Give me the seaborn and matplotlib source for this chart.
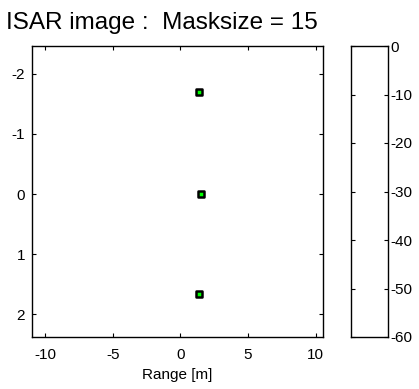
import matplotlib
matplotlib.use("Agg")
import matplotlib.pyplot as plt
import seaborn as sns
import pandas as pd

# data
range_m = [1.36, 1.53, 1.36]
cross_range = [-1.70, 0.0, 1.67]
x_ticks = [-10, -5, 0, 5, 10]
y_ticks = [-2, -1, 0, 1, 2]
cbar_ticks = [0, -10, -20, -30, -40, -50, -60]
title = "ISAR image :  Masksize = 15"

sns.set_style("white")
plt.rcParams['font.family'] = ['Liberation Sans', 'DejaVu Sans']
plt.rcParams['axes.unicode_minus'] = False
plt.rcParams['text.color'] = 'black'
plt.rcParams['axes.labelcolor'] = 'black'
plt.rcParams['xtick.color'] = 'black'
plt.rcParams['ytick.color'] = 'black'

W, H = 419, 389
fig = plt.figure(figsize=(W / 100, H / 100), dpi=100)

def ax_rect(l, t, r, b):
    return [l / W, 1 - b / H, (r - l) / W, (b - t) / H]

ax = fig.add_axes(ax_rect(32, 45.7, 322.7, 337))
df = pd.DataFrame({"x": range_m, "y": cross_range})
sns.scatterplot(data=df, x="x", y="y", ax=ax, marker="s", s=14,
                color="#00ff00", edgecolor="black", linewidth=1.8, zorder=3)
ax.set_xlim(-10.96, 10.52)
ax.set_ylim(2.38, -2.47)
ax.set_xticks(x_ticks)
ax.set_yticks(y_ticks)
ax.set_xlabel("Range [m]", fontsize=11, labelpad=4)
ax.set_ylabel("")
ax.tick_params(direction="in", length=3, width=0.8, labelsize=11,
               top=True, right=True, bottom=True, left=True, pad=5,
               color="black", labelcolor="black")
ax.tick_params(axis="x", pad=8)
for sp in ax.spines.values():
    sp.set_visible(True)
    sp.set_color("black")
    sp.set_linewidth(1.0)

cax = fig.add_axes(ax_rect(351, 46, 388, 337))
cax.set_xlim(0, 1)
cax.set_ylim(-60, 0)
cax.set_xticks([])
cax.set_yticks(cbar_ticks)
cax.yaxis.tick_right()
cax.tick_params(axis="y", direction="in", length=3, width=0.8, labelsize=11,
                left=True, right=True, pad=2, color="black", labelcolor="black")
for sp in cax.spines.values():
    sp.set_visible(True)
    sp.set_color("black")
    sp.set_linewidth(1.0)

fig.text(6 / W, 1 - 29 / H, title, fontsize=17.5, ha="left", va="baseline",
         color="black")

fig.savefig("out.png", dpi=100)
